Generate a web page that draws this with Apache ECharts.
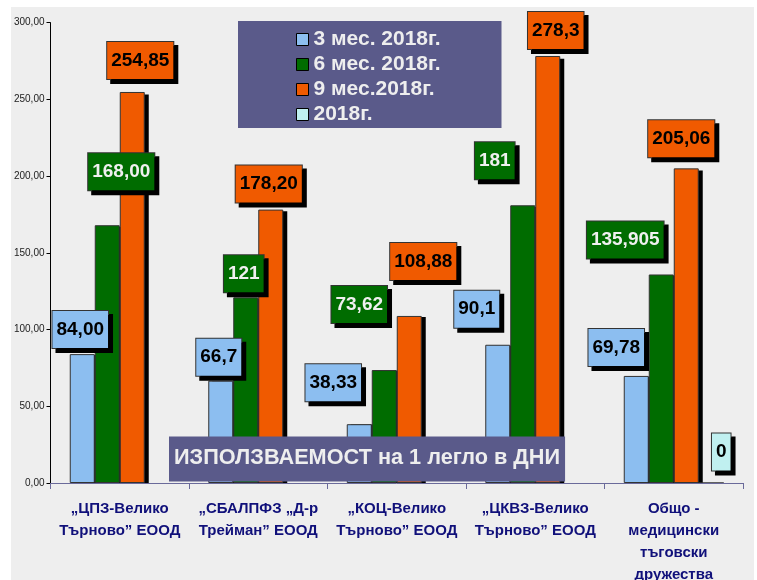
<!DOCTYPE html>
<html>
<head>
<meta charset="utf-8">
<script src="https://cdn.jsdelivr.net/npm/echarts@6/dist/echarts.min.js"></script>
<style>
  html, body { margin: 0; padding: 0; background: #fff; }
  #chart { position: absolute; left: 11px; top: 7px; width: 743px; height: 573px; }
</style>
</head>
<body>
<div id="chart"></div>
<script>
// категории (болници)
const categories = [
  '„ЦПЗ-Велико\nТърново” ЕООД',
  '„СБАЛПФЗ „Д-р\nТрейман” ЕООД',
  '„КОЦ-Велико\nТърново” ЕООД',
  '„ЦКВЗ-Велико\nТърново” ЕООД',
  'Общо -\nмедицински\nтъговски\nдружества'
];
const seriesNames = ['3 мес. 2018г.', '6 мес. 2018г.', '9 мес.2018г.', '2018г.'];

// стойности
const q3 = [84.00, 66.7, 38.33, 90.1, 69.78];
const q6 = [168.00, 121, 73.62, 181, 135.905];
const q9 = [254.85, 178.20, 108.88, 278.3, 205.06];
const y2018 = [null, null, null, null, 0];

// надписи, както са в графиката
const q3Text = ['84,00', '66,7', '38,33', '90,1', '69,78'];
const q6Text = ['168,00', '121', '73,62', '181', '135,905'];
const q9Text = ['254,85', '178,20', '108,88', '278,3', '205,06'];
const y2018Text = ['', '', '', '', '0'];

const yMin = 0, yMax = 300, yStep = 50;

// изместване на надписите [dx, dy]
const q3Off = [[-2, -6], [-2, -5], [-26, -23], [-21, -17], [-20, -10]];
const q6Off = [[14, -35], [-2, -5], [-25, -47], [-28, -26], [-36, -16]];
const q9Off = [[8, -13], [-2, -7], [14, -36], [8, -7], [-5, -11]];
const y2018Off = [[0, 0], [0, 0], [0, 0], [0, 0], [10, -12]];

const colors = ['#8CBEF0', '#006C00', '#F05A00', '#C0F0F0'];
const textColors = ['#000', '#F0F0F0', '#000', '#000'];
const FONT = '"Liberation Sans", Arial, sans-serif';

const allValues = [q3, q6, q9, y2018];

function makeSeries(idx, values, texts, offs) {
  return {
    name: seriesNames[idx],
    type: 'bar',
    xAxisIndex: 0,
    yAxisIndex: 0,
    z: 3,
    barWidth: 25,
    barGap: '0%',
    itemStyle: {
      color: colors[idx],
      borderColor: '#333',
      borderWidth: 1
    },
    emphasis: { disabled: true },
    data: values.map(function (v, i) {
      if (v === null) return '-';
      return {
        value: v,
        label: {
          show: true,
          position: 'top',
          distance: 0,
          offset: offs[i],
          formatter: texts[i],
          color: textColors[idx],
          fontFamily: FONT,
          fontWeight: 'bold',
          fontSize: 19,
          lineHeight: 19,
          backgroundColor: colors[idx],
          borderColor: '#333',
          borderWidth: 1,
          padding: [9, 4, 9, 4],
          shadowColor: '#000',
          shadowBlur: 0,
          shadowOffsetX: 4,
          shadowOffsetY: 4
        }
      };
    })
  };
}

// сянка на стълбовете: същите стойности в отместена мрежа
function makeShadow(idx) {
  return {
    name: 'shadow' + idx,
    type: 'bar',
    xAxisIndex: 1,
    yAxisIndex: 1,
    z: 1,
    barWidth: 25,
    barGap: '0%',
    silent: true,
    itemStyle: { color: '#000' },
    emphasis: { disabled: true },
    data: allValues[idx].map(function (v) { return v === null ? '-' : v; })
  };
}

const chart = echarts.init(document.getElementById('chart'));
chart.setOption({
  backgroundColor: '#EEEEEE',
  animation: false,
  title: {
    text: 'ИЗПОЛЗВАЕМОСТ на 1 легло в ДНИ',
    left: 158,
    top: 430,
    backgroundColor: '#5A5A8A',
    padding: [11, 5, 12, 5],
    textStyle: {
      color: '#EEEEEE',
      fontFamily: FONT,
      fontWeight: 'bold',
      fontSize: 21.7,
      lineHeight: 21
    }
  },
  legend: {
    orient: 'vertical',
    left: 227,
    top: 14,
    backgroundColor: '#5A5A8A',
    padding: [8, 61, 3, 58],
    itemWidth: 12,
    itemHeight: 12,
    itemGap: 4,
    icon: 'rect',
    itemStyle: {
      borderColor: '#000',
      borderWidth: 1
    },
    textStyle: {
      color: '#EEEEEE',
      fontFamily: FONT,
      fontWeight: 'bold',
      fontSize: 21,
      lineHeight: 21
    },
    data: seriesNames
  },
  grid: [
    { left: 39.5, right: 11, top: 15.7, bottom: 97, outerBoundsMode: 'none' },
    { left: 43.5, right: 7, top: 18.7, bottom: 97, outerBoundsMode: 'none' }
  ],
  xAxis: [{
    type: 'category',
    gridIndex: 0,
    data: categories,
    z: 4,
    axisLine: { lineStyle: { color: '#6A6A9A', width: 1 } },
    axisTick: { show: true, length: 6, lineStyle: { color: '#6A6A9A' } },
    axisLabel: {
      interval: 0,
      margin: 15,
      color: '#10107A',
      fontFamily: FONT,
      fontWeight: 'bold',
      fontSize: 15,
      lineHeight: 22
    }
  }, {
    type: 'category',
    gridIndex: 1,
    data: categories,
    show: false
  }],
  yAxis: [{
    type: 'value',
    gridIndex: 0,
    min: yMin,
    max: yMax,
    interval: yStep,
    z: 4,
    splitLine: { show: false },
    axisLine: { show: true, lineStyle: { color: '#000', width: 1 } },
    axisTick: { show: true, length: 4, lineStyle: { color: '#000' } },
    axisLabel: {
      margin: 6,
      color: '#222',
      fontFamily: FONT,
      fontSize: 10,
      formatter: function (v) { return v.toFixed(2).replace('.', ','); }
    }
  }, {
    type: 'value',
    gridIndex: 1,
    min: yMin,
    max: yMax,
    interval: yStep,
    show: false,
    splitLine: { show: false }
  }],
  series: [
    makeShadow(0), makeShadow(1), makeShadow(2), makeShadow(3),
    makeSeries(0, q3, q3Text, q3Off),
    makeSeries(1, q6, q6Text, q6Off),
    makeSeries(2, q9, q9Text, q9Off),
    makeSeries(3, y2018, y2018Text, y2018Off)
  ]
});
</script>
</body>
</html>
